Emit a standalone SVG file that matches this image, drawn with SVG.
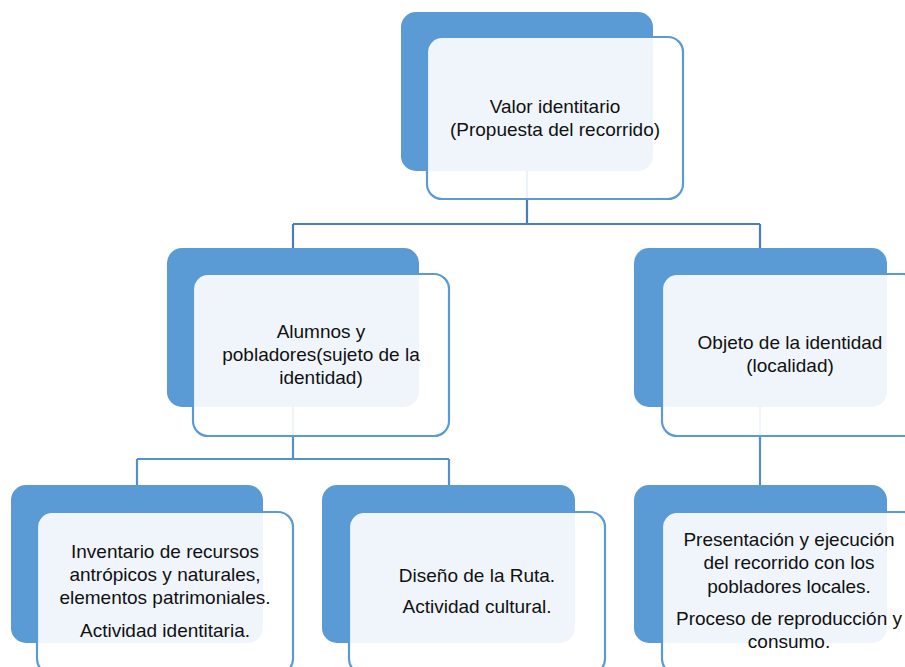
<svg xmlns="http://www.w3.org/2000/svg" width="905" height="667" viewBox="0 0 905 667">
<style>
.back{fill:#5B9BD5;}
.front{fill:#FFFFFF;fill-opacity:0.9;stroke:#5B9BD5;stroke-width:2.2;}
.conn{fill:none;stroke:#4A7EBB;stroke-width:2.2;}
.conn2{fill:none;stroke:#5590CC;stroke-width:2.2;}
text{font-family:"Liberation Sans",Arial,sans-serif;font-size:19px;fill:#111;text-anchor:middle;}
</style>
<rect width="905" height="667" fill="#FFFFFF"/>
<g id="connectors">
<path class="conn" d="M527 171 V224 M293 224 H760 M293 224 V248 M760 224 V248"/>
<path class="conn2" d="M293 407 V459 M137 459 H449 M137 459 V485 M449 459 V485"/>
<path class="conn2" d="M760 407 V485"/>
</g>
<g id="node-valor">
<rect class="back" x="401" y="12" width="252" height="159" rx="15"/>
<rect class="front" x="427" y="37" width="256" height="162" rx="15"/>
<text x="555" y="113">Valor identitario</text>
<text x="555" y="136">(Propuesta del recorrido)</text>
</g>
<g id="node-alumnos">
<rect class="back" x="167" y="248" width="252" height="159" rx="15"/>
<rect class="front" x="193" y="274" width="256" height="162" rx="15"/>
<text x="321" y="338">Alumnos y</text>
<text x="321" y="361">pobladores(sujeto de la</text>
<text x="321" y="384">identidad)</text>
</g>
<g id="node-objeto">
<rect class="back" x="634" y="248" width="253" height="159" rx="15"/>
<rect class="front" x="662" y="274" width="256" height="162" rx="15"/>
<text x="790" y="349">Objeto de la identidad</text>
<text x="790" y="372">(localidad)</text>
</g>
<g id="node-inventario">
<rect class="back" x="11" y="485" width="252" height="158" rx="15"/>
<rect class="front" x="37" y="512" width="256" height="162" rx="15"/>
<text x="165" y="558">Inventario de recursos</text>
<text x="165" y="581">antrópicos y naturales,</text>
<text x="165" y="604">elementos patrimoniales.</text>
<text x="165" y="637">Actividad identitaria.</text>
</g>
<g id="node-diseno">
<rect class="back" x="322" y="485" width="253" height="158" rx="15"/>
<rect class="front" x="349" y="512" width="256" height="162" rx="15"/>
<text x="477" y="582">Diseño de la Ruta.</text>
<text x="477" y="613">Actividad cultural.</text>
</g>
<g id="node-presentacion">
<rect class="back" x="634" y="485" width="253" height="158" rx="15"/>
<rect class="front" x="662" y="512" width="256" height="162" rx="15"/>
<text x="789" y="546">Presentación y ejecución</text>
<text x="789" y="569">del recorrido con los</text>
<text x="789" y="593">pobladores locales.</text>
<text x="789" y="625">Proceso de reproducción y</text>
<text x="789" y="648">consumo.</text>
</g>
</svg>
